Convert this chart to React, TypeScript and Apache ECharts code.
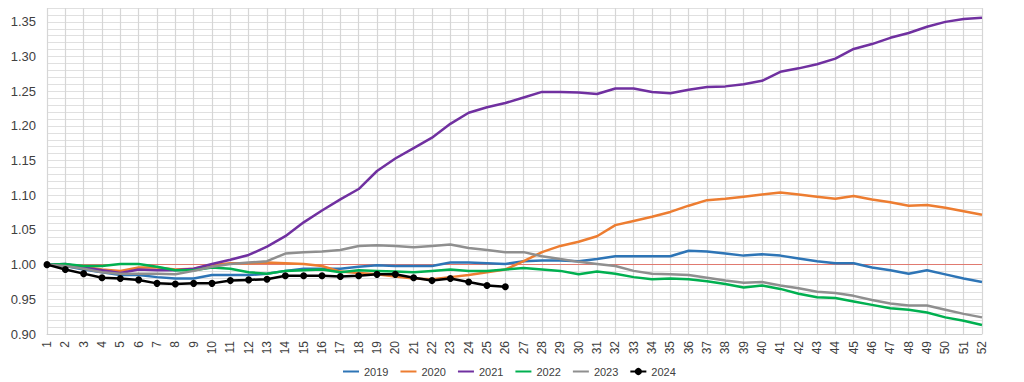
import React, { useEffect, useRef } from "react";
import * as echarts from "echarts";

const weeks: string[] = Array.from({ length: 52 }, (_, i) => String(i + 1));

const s2019 = [1.000, 0.998, 0.993, 0.989, 0.985, 0.985, 0.982, 0.980, 0.980, 0.985, 0.985, 0.985, 0.987, 0.991, 0.994, 0.994, 0.994, 0.997, 0.999, 0.998, 0.998, 0.998, 1.003, 1.003, 1.002, 1.001, 1.005, 1.006, 1.006, 1.005, 1.008, 1.012, 1.012, 1.012, 1.012, 1.020, 1.019, 1.016, 1.013, 1.015, 1.013, 1.009, 1.005, 1.002, 1.002, 0.996, 0.992, 0.987, 0.992, 0.986, 0.980, 0.975];
const s2020 = [1.000, 0.999, 0.997, 0.993, 0.991, 0.996, 0.996, 0.993, 0.994, 0.999, 1.002, 1.002, 1.003, 1.002, 1.001, 0.998, 0.990, 0.988, 0.986, 0.983, 0.980, 0.979, 0.982, 0.985, 0.989, 0.993, 1.005, 1.018, 1.027, 1.033, 1.041, 1.057, 1.063, 1.069, 1.076, 1.085, 1.093, 1.095, 1.098, 1.101, 1.104, 1.101, 1.098, 1.095, 1.099, 1.094, 1.090, 1.085, 1.086, 1.082, 1.077, 1.072];
const s2021 = [1.000, 1.001, 0.996, 0.992, 0.988, 0.993, 0.992, 0.992, 0.994, 1.001, 1.007, 1.014, 1.026, 1.041, 1.061, 1.078, 1.094, 1.109, 1.135, 1.153, 1.168, 1.183, 1.203, 1.219, 1.227, 1.233, 1.241, 1.249, 1.249, 1.248, 1.246, 1.254, 1.254, 1.249, 1.247, 1.252, 1.256, 1.257, 1.260, 1.265, 1.278, 1.283, 1.289, 1.297, 1.311, 1.318, 1.327, 1.334, 1.343, 1.350, 1.354, 1.356];
const s2022 = [1.000, 1.001, 0.998, 0.998, 1.001, 1.001, 0.997, 0.992, 0.992, 0.996, 0.994, 0.989, 0.987, 0.991, 0.992, 0.993, 0.989, 0.992, 0.991, 0.990, 0.989, 0.991, 0.993, 0.991, 0.991, 0.993, 0.995, 0.993, 0.991, 0.986, 0.990, 0.987, 0.982, 0.979, 0.980, 0.979, 0.976, 0.972, 0.967, 0.970, 0.965, 0.958, 0.953, 0.952, 0.947, 0.942, 0.937, 0.935, 0.931, 0.924, 0.919, 0.913];
const s2023 = [1.000, 0.998, 0.994, 0.989, 0.987, 0.987, 0.987, 0.986, 0.991, 0.997, 1.001, 1.003, 1.005, 1.016, 1.018, 1.019, 1.021, 1.027, 1.028, 1.027, 1.025, 1.027, 1.029, 1.024, 1.021, 1.018, 1.018, 1.012, 1.008, 1.004, 1.001, 0.998, 0.991, 0.987, 0.986, 0.985, 0.981, 0.977, 0.974, 0.975, 0.970, 0.966, 0.961, 0.959, 0.955, 0.949, 0.944, 0.941, 0.941, 0.935, 0.929, 0.924];
const s2024 = [1.000, 0.993, 0.987, 0.981, 0.980, 0.978, 0.973, 0.972, 0.973, 0.973, 0.977, 0.978, 0.979, 0.984, 0.984, 0.984, 0.983, 0.984, 0.986, 0.986, 0.981, 0.977, 0.980, 0.975, 0.970, 0.968];

const seriesNames = ["2019", "2020", "2021", "2022", "2023", "2024"];
const seriesData = [s2019, s2020, s2021, s2022, s2023, s2024];
const colors = ["#2e75b6", "#ed7d31", "#7030a0", "#00b050", "#8f8f8f", "#000000"];
const baseline = 1.0;

const FONT = "Liberation Sans, Arial, sans-serif";

export default function App() {
  const ref = useRef<HTMLDivElement>(null);
  useEffect(() => {
    document.body.style.margin = "0";
    if (!ref.current) return;
    const chart = echarts.init(ref.current, undefined, { renderer: "svg" });
    const series: any[] = seriesNames.map((name, i) => {
      const isLast = i === seriesNames.length - 1;
      const s: any = {
        name,
        type: "line",
        data: seriesData[i],
        symbol: isLast ? "circle" : "none",
        symbolSize: 7,
        showSymbol: isLast,
        lineStyle: { color: colors[i], width: 2.5 },
        itemStyle: { color: colors[i] },
        z: 3 + i,
      };
      if (i === 0) {
        s.markLine = {
          silent: true,
          symbol: "none",
          label: { show: false },
          lineStyle: { color: "#e07a70", width: 1, type: "solid" },
          data: [{ yAxis: baseline }],
          z: 1,
        };
      }
      return s;
    });
    const legendData = seriesNames.map((name, i) =>
      i === seriesNames.length - 1
        ? { name }
        : { name, itemStyle: { color: "rgba(0,0,0,0)", borderWidth: 0, opacity: 0 } }
    );
    chart.setOption({
      animation: false,
      backgroundColor: "#ffffff",
      color: colors,
      grid: { left: 47, right: 42, top: 8, bottom: 48, containLabel: false },
      legend: {
        data: legendData,
        left: 337,
        top: 361,
        itemWidth: 16,
        itemHeight: 9,
        itemGap: 11,
        textStyle: { fontFamily: FONT, fontSize: 11, color: "#404040" },
      },
      xAxis: {
        type: "category",
        data: weeks,
        boundaryGap: false,
        axisLine: { lineStyle: { color: "#d0d0d0" } },
        axisTick: { show: false },
        axisLabel: {
          rotate: 90,
          interval: 0,
          fontFamily: FONT,
          fontSize: 12,
          color: "#404040",
          margin: 7,
        },
        splitLine: { show: true, interval: 0, lineStyle: { color: "#d6d6d6", width: 1.2 } },
      },
      yAxis: {
        type: "value",
        min: 0.9,
        max: 1.37,
        interval: 0.01,
        axisLine: { show: false },
        axisTick: { show: false },
        axisLabel: {
          fontFamily: FONT,
          fontSize: 13,
          color: "#404040",
          margin: 11,
          formatter: (v: number) => (Math.round(v * 100) % 5 === 0 ? v.toFixed(2) : ""),
        },
        splitLine: { show: true, lineStyle: { color: "#e0e0e0", width: 1 } },
      },
      series,
    });
    return () => chart.dispose();
  }, []);
  return <div ref={ref} style={{ width: 1024, height: 382 }} />;
}
